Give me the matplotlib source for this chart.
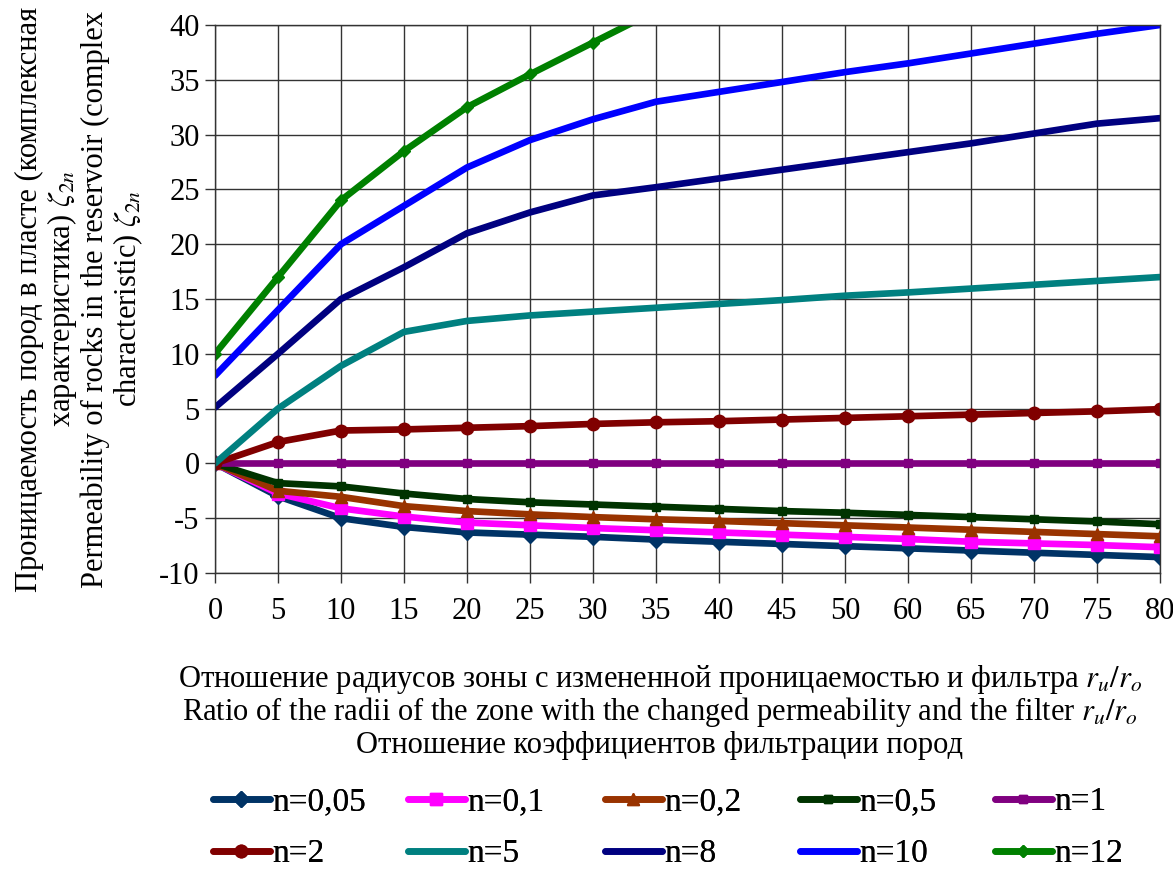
import numpy as np
import matplotlib
matplotlib.use("Agg")
import matplotlib.pyplot as plt

plt.rcParams['font.family'] = ['Liberation Serif', 'DejaVu Serif']
plt.rcParams['mathtext.fontset'] = 'stix'
plt.rcParams['axes.unicode_minus'] = False

categories = ["0", "5", "10", "15", "20", "25", "30", "35", "40", "45", "50", "60", "65", "70", "75", "80"]

n005 = [0, -3.0, -5.0, -5.8, -6.3, -6.5, -6.7, -6.95, -7.15, -7.35, -7.55, -7.75, -7.95, -8.15, -8.35, -8.55]
n01 = [0, -2.75, -4.1, -4.85, -5.4, -5.65, -5.9, -6.1, -6.3, -6.5, -6.7, -6.9, -7.15, -7.3, -7.45, -7.65]
n02 = [0, -2.5, -3.05, -3.9, -4.35, -4.65, -4.9, -5.1, -5.25, -5.45, -5.65, -5.85, -6.05, -6.25, -6.45, -6.65]
n05 = [0, -1.8, -2.1, -2.75, -3.25, -3.55, -3.75, -3.95, -4.15, -4.35, -4.5, -4.7, -4.9, -5.1, -5.3, -5.55]
n1 = [0] * 16
n2 = [0, 1.95, 3.0, 3.1, 3.25, 3.4, 3.6, 3.75, 3.85, 4.0, 4.15, 4.3, 4.45, 4.6, 4.75, 4.95]
n5 = [0, 5.0, 8.9, 12.0, 13.0, 13.5, 13.85, 14.2, 14.55, 14.9, 15.3, 15.6, 15.95, 16.3, 16.65, 17.0]
n8 = [5.1, 10.0, 15.0, 17.9, 21.0, 22.9, 24.45, 25.2, 26.0, 26.8, 27.6, 28.4, 29.2, 30.1, 31.0, 31.5]
n10 = [8.0, 14.0, 20.0, 23.5, 27.0, 29.5, 31.4, 33.0, 33.9, 34.8, 35.7, 36.5, 37.4, 38.3, 39.2, 40.0]
n12 = [10.0, 17.0, 24.0, 28.5, 32.5, 35.5, 38.4, 41.3, np.nan, np.nan, np.nan, np.nan, np.nan, np.nan, np.nan, np.nan]

series_labels = ["n=0,05", "n=0,1", "n=0,2", "n=0,5", "n=1", "n=2", "n=5", "n=8", "n=10", "n=12"]
series_values = [n005, n01, n02, n05, n1, n2, n5, n8, n10, n12]
colors = ["#003366", "#FF00FF", "#993300", "#003300", "#800080", "#800000", "#008080", "#000080", "#0000FF", "#008000"]
markers = ["D", "s", "^", "s", "s", "o", None, None, None, "D"]
msizes = [8, 9, 9, 6, 6, 9, 0, 0, 0, 6]

W, H = 1173, 873
fig = plt.figure(figsize=(W / 100, H / 100), dpi=100)
ax = fig.add_axes([215 / W, 1 - 573 / H, (1160 - 215) / W, (573 - 25) / H])

x = np.arange(len(categories))
handles = []
for vals, lab, c, m, ms in zip(series_values, series_labels, colors, markers, msizes):
    h, = ax.plot(x, vals, color=c, lw=4.8, marker=m, markersize=ms,
                 markeredgecolor=c, markerfacecolor=c, label=lab,
                 solid_capstyle='round', solid_joinstyle='round')
    handles.append(h)

ax.set_xlim(0, len(categories) - 1)
ax.set_ylim(-10, 40)
ax.set_yticks(np.arange(-10, 41, 5))
ax.set_xticks(x)
ax.set_xticklabels(categories)
ax.grid(True, color='#333333', lw=1.0)
ax.set_axisbelow(True)
for s in ax.spines.values():
    s.set_color('#333333')
    s.set_linewidth(1.0)
ax.tick_params(axis='both', labelsize=22, length=7, width=1.0, color='#333333')
ax.tick_params(axis='x', pad=10)
ax.tick_params(axis='y', pad=4)

ylab = ("Проницаемость пород в пласте (комплексная\nхарактеристика) $\\zeta_{2n}$\n"
        "Permeability of rocks in the reservoir (complex\ncharacteristic) $\\zeta_{2n}$")
fig.text(80 / W, 1 - 299 / H, ylab, rotation=90, ha='center', va='center',
         fontsize=22, linespacing=1.05, multialignment='center')

xl_x = 660 / W
fig.text(xl_x, 1 - 680 / H, "Отношение радиусов зоны с измененной проницаемостью и фильтра $r_u/r_o$",
         ha='center', va='center', fontsize=22)
fig.text(xl_x, 1 - 712 / H, "Ratio of the radii of the zone with the changed permeability and the filter $r_u/r_o$",
         ha='center', va='center', fontsize=22)
fig.text(xl_x, 1 - 745 / H, "Отношение коэффициентов фильтрации пород",
         ha='center', va='center', fontsize=22)

col_x = [213, 408, 605, 800, 995]
for j in range(5):
    leg = fig.legend([handles[j], handles[j + 5]], [series_labels[j], series_labels[j + 5]],
                     loc='center left', bbox_to_anchor=(col_x[j] / W, 1 - 828 / H),
                     frameon=False, fontsize=24, handlelength=1.7, handletextpad=0.08,
                     borderpad=0, borderaxespad=0, labelspacing=0.65)
    fig.add_artist(leg)

fig.savefig("out.png", dpi=100)
